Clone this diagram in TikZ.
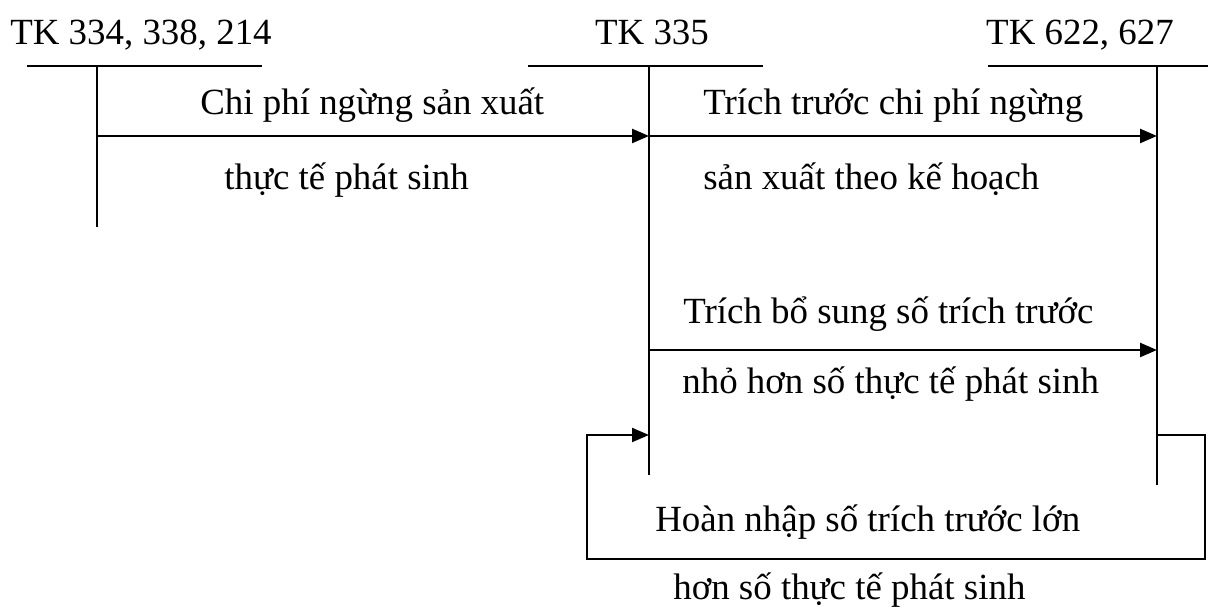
\documentclass[tikz,border=0pt]{standalone}
\usepackage{fontspec}
\setmainfont{Liberation Serif}
\usetikzlibrary{arrows.meta,positioning,calc}
\tikzset{
  acct/.style={
    anchor=base,
    inner sep=0pt,
    font=\fontsize{21}{25}\selectfont
  },
  lbl/.style={
    anchor=base west,
    inner sep=0pt,
    font=\fontsize{21}{25}\selectfont
  },
  tline/.style={line width=1.1pt,draw=black},
  flow/.style={-{Triangle[length=0.34cm,width=0.28cm]},line width=1.4pt,draw=black},
  backflow/.style={-{Triangle[length=0.34cm,width=0.28cm]},line width=1.2pt,draw=black}
}

\begin{document}
\begin{tikzpicture}[x=0.02cm,y=-0.02cm]
    \useasboundingbox (0,0) rectangle (1208,607);

    % account headings
    \node[acct] (tk334) at (141,45) {TK 334, 338, 214};
    \node[acct] (tk335) at (652,45) {TK 335};
    \node[acct] (tk622) at (1080,45) {TK 622, 627};

    % T shapes
    \coordinate (h334a) at (27,66);   \coordinate (h334b) at (262,66);
    \coordinate (h335a) at (528,66);  \coordinate (h335b) at (763,66);
    \coordinate (h622a) at (988,66);  \coordinate (h622b) at (1208,66);
    \coordinate (v334) at (97,66);    \coordinate (e334) at (97,227);
    \coordinate (v335) at (649,66);   \coordinate (e335) at (649,475);
    \coordinate (v622) at (1157,66);  \coordinate (e622) at (1157,485);
    \draw[tline] (h334a) -- (h334b);
    \draw[tline] (h335a) -- (h335b);
    \draw[tline] (h622a) -- (h622b);
    \draw[tline] (v334) -- (e334);
    \draw[tline] (v335) -- (e335);
    \draw[tline] (v622) -- (e622);

    % entries
    \coordinate (s1) at (97,136);   \coordinate (t1) at (649,136);
    \coordinate (s2) at (649,136);  \coordinate (t2) at (1157,136);
    \coordinate (s3) at (649,350);  \coordinate (t3) at (1157,350);
    \draw[flow] (s1) -- (t1);
    \draw[flow] (s2) -- (t2);
    \draw[flow] (s3) -- (t3);

    % reversal runs back round the bottom
    \coordinate (s4) at (1157,435);
    \coordinate (c4a) at (1205,435);
    \coordinate (c4b) at (1205,559);
    \coordinate (c4c) at (587,559);
    \coordinate (c4d) at (587,435);
    \coordinate (t4) at (649,435);
    \draw[backflow] (s4) -- (c4a) -- (c4b) -- (c4c) -- (c4d) -- (t4);

    \node[lbl] (n1a) at (200,115) {Chi phí ngừng sản xuất};
    \node[lbl] (n1b) at (224,190) {thực tế phát sinh};
    \node[lbl] (n2a) at (703,115) {Trích trước chi phí ngừng};
    \node[lbl] (n2b) at (703,190) {sản xuất theo kế hoạch};
    \node[lbl] (n3a) at (683,324) {Trích bổ sung số trích trước};
    \node[lbl] (n3b) at (682,394) {nhỏ hơn số thực tế phát sinh};
    \node[lbl] (n4a) at (655,532) {Hoàn nhập số trích trước lớn};
    \node[lbl] (n4b) at (673,600) {hơn số thực tế phát sinh};
\end{tikzpicture}
\end{document}
